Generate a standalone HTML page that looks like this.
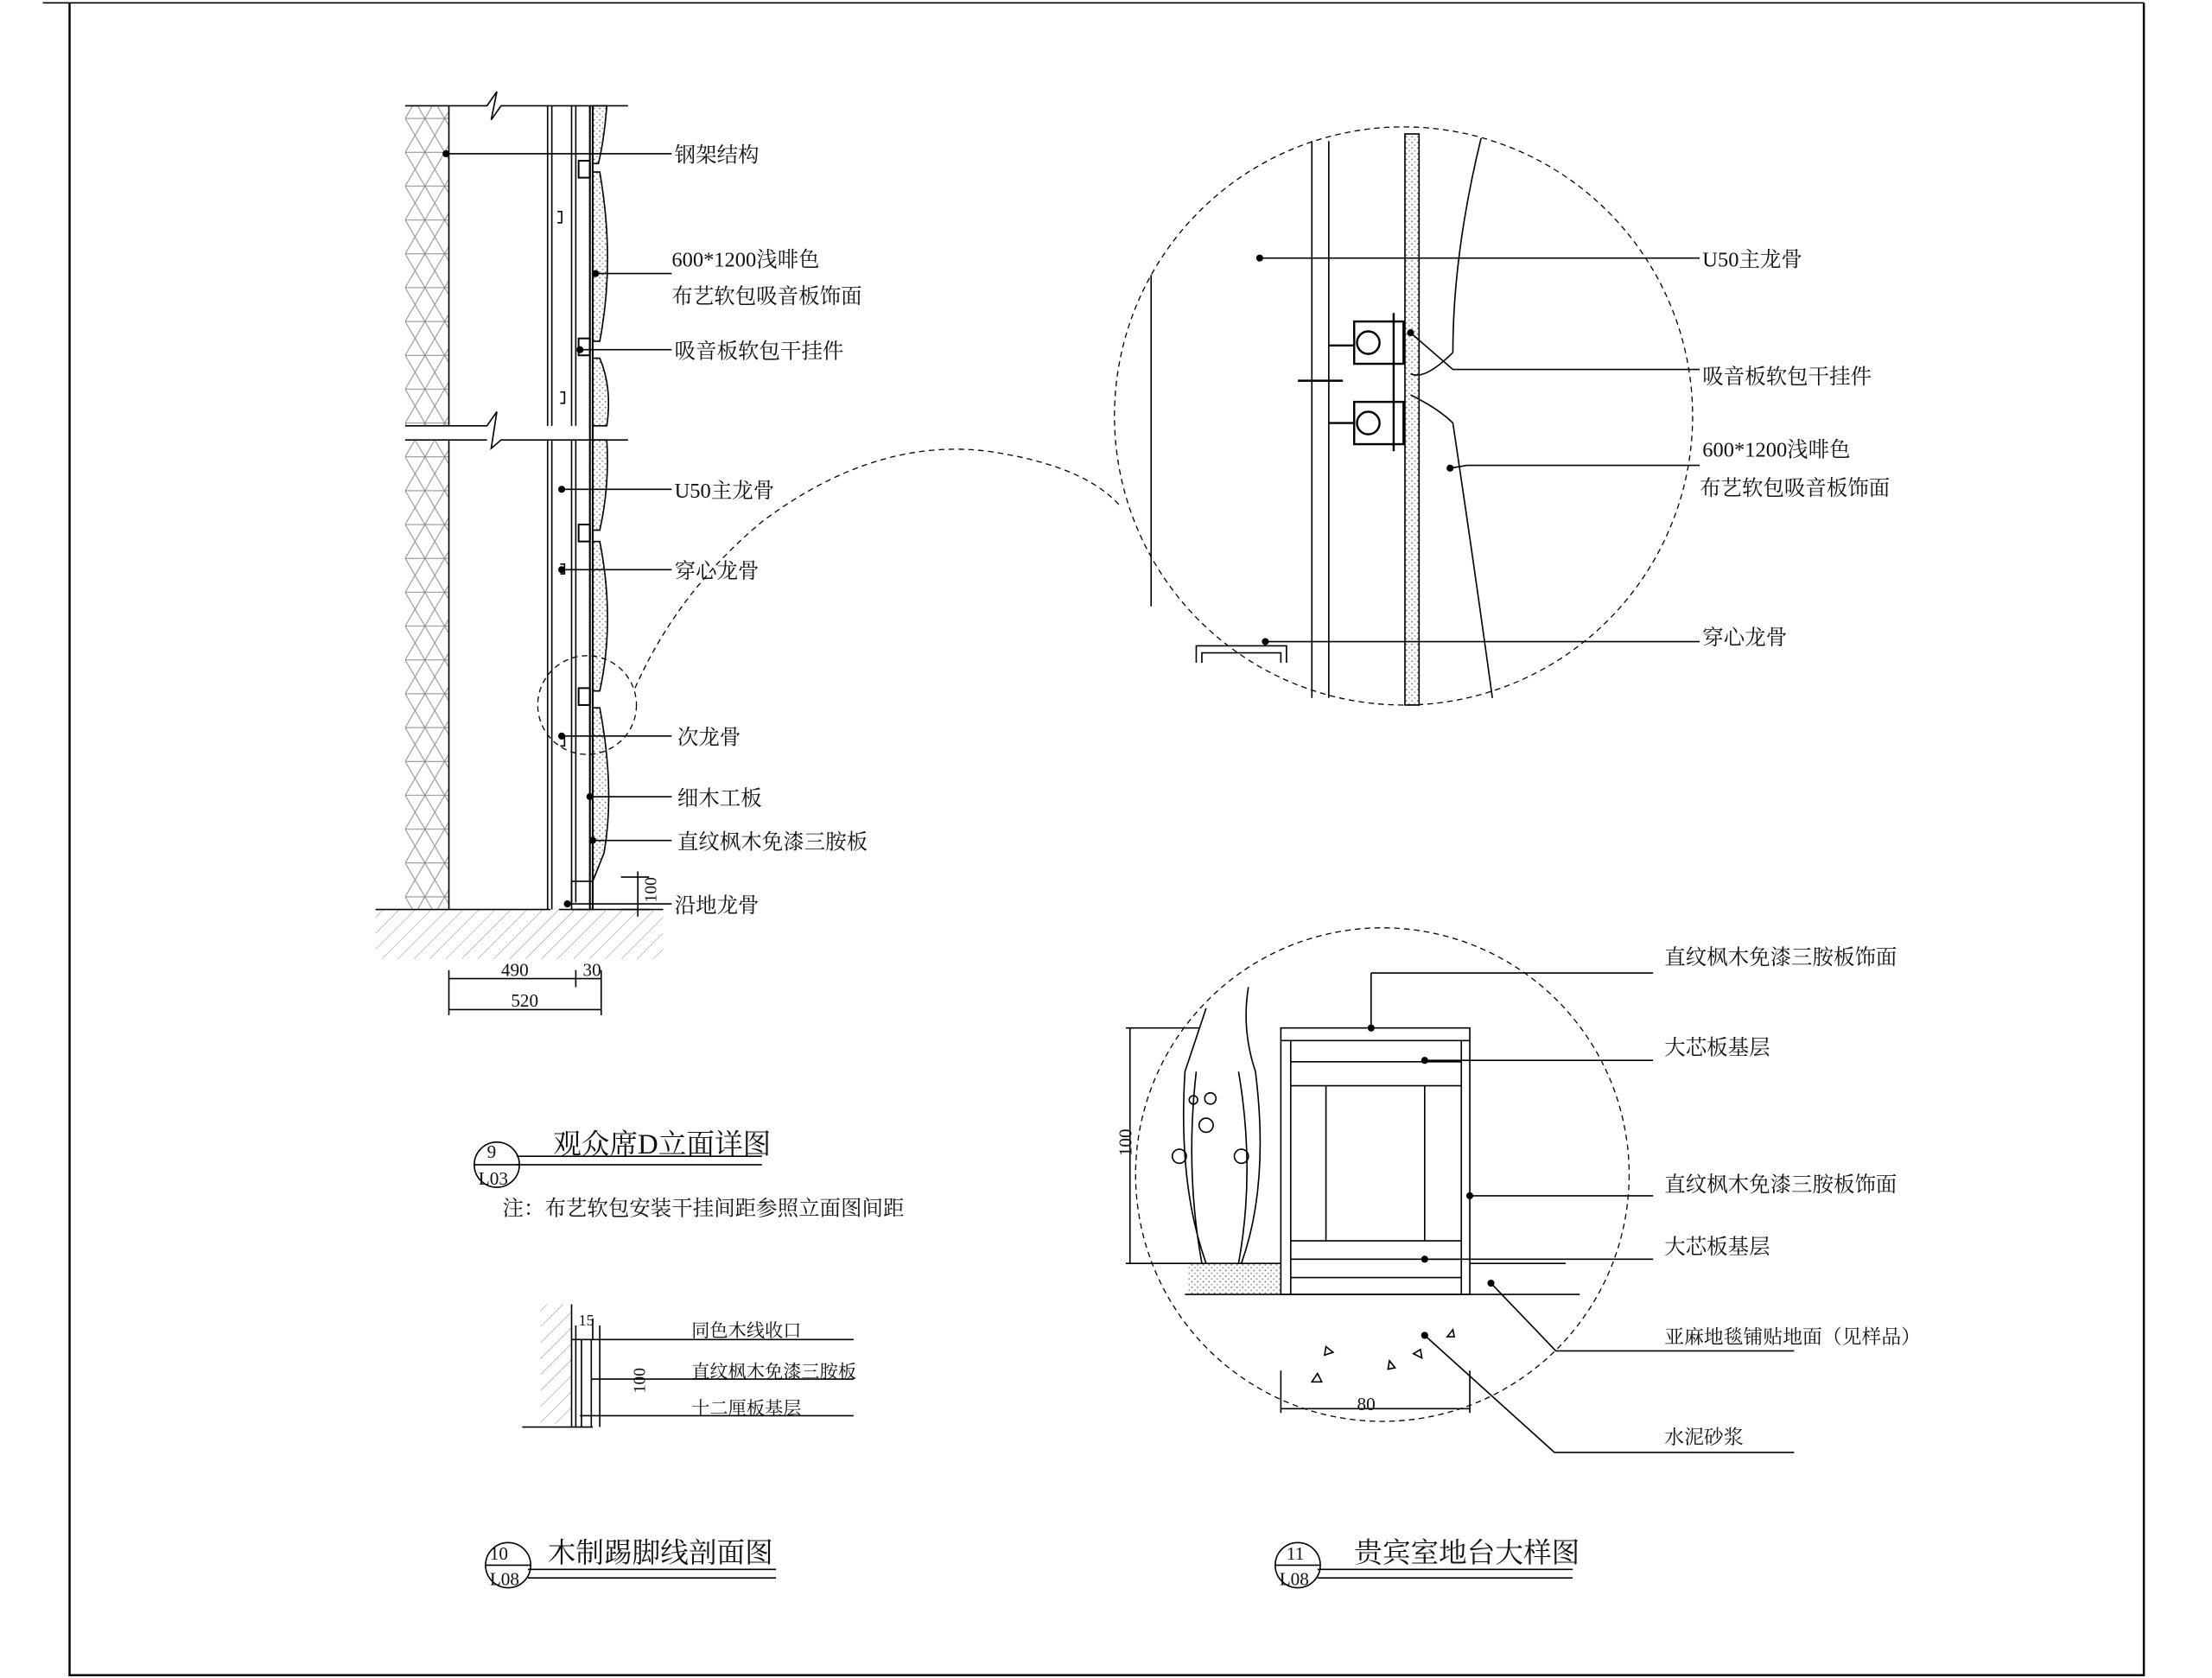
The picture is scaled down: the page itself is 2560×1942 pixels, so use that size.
<!DOCTYPE html>
<html><head><meta charset="utf-8"><style>
html,body{margin:0;padding:0;background:#fff}
svg{display:block}
text{font-family:"Liberation Serif","Noto Serif CJK SC","Noto Sans CJK SC",serif;fill:#111}
</style></head><body>
<svg width="2560" height="1942" viewBox="0 0 1568 1190" xmlns="http://www.w3.org/2000/svg">
<defs>
<pattern id="tri" width="14" height="24" patternUnits="userSpaceOnUse">
<path d="M0 0 L7 12 L0 24 M14 0 L7 12 L14 24 M0 12 H14" stroke="#888" stroke-width="0.6" fill="none"/>
</pattern>
<pattern id="dots" width="4" height="4" patternUnits="userSpaceOnUse">
<circle cx="1" cy="1" r="0.6" fill="#777"/><circle cx="3" cy="3" r="0.6" fill="#999"/>
</pattern>
<pattern id="hatch" width="8" height="8" patternUnits="userSpaceOnUse" patternTransform="rotate(45)">
<line x1="0" y1="0" x2="0" y2="8" stroke="#888" stroke-width="0.6"/>
</pattern>
</defs>
<rect width="1568" height="1190" fill="#fff"/>
<path d="M49 2 V1188 H1520 V2" stroke="#000" stroke-width="1.5" fill="none"/>
<line x1="30" y1="2" x2="1520" y2="2" stroke="#000" stroke-width="1"/>

<g stroke="#000" stroke-width="1" fill="none">
<rect x="287" y="75" width="31" height="227" fill="url(#tri)" stroke="none"/>
<rect x="287" y="312" width="31" height="333" fill="url(#tri)" stroke="none"/>
<line x1="318" y1="75" x2="318" y2="302"/><line x1="318" y1="312" x2="318" y2="645"/>
<path d="M287 75 H345 L352 65 L348 85 L355 75 H445"/>
<path d="M287 302 H345 L352 292 L348 318 L355 312 H445 M287 312 H345"/>
<path d="M388 75 V302 M391 75 V302 M405 75 V302 M408 75 V302 M388 312 V645 M391 312 V645 M405 312 V640 M408 312 V640"/>
<path d="M418 75 V645 M420 75 V645" stroke-width="1.3"/>
<g fill="url(#dots)">
<path d="M420 75 H430 Q428 100 424 116 H420Z"/>
<path d="M420 122 H425 Q436 185 425 242 H420Z"/>
<path d="M420 254 H425 Q434 275 430 302 H420Z"/>
<path d="M420 312 H430 Q432 345 425 376 H420Z"/>
<path d="M420 384 H425 Q436 440 425 490 H420Z"/>
<path d="M420 502 H425 Q436 560 428 605 L420 625Z"/>
</g>
<g stroke-width="1.2">
<rect x="410" y="114" width="8" height="12"/><rect x="410" y="240" width="8" height="12"/>
<rect x="410" y="372" width="8" height="12"/><rect x="410" y="488" width="8" height="12"/>
</g>
<path d="M395 150 h3 v8 h-3 M397 278 h3 v8 h-3 M397 400 h3 v7 h-3 M397 522 h3 v7 h-3"/>
<rect x="405" y="625" width="15" height="20"/>
<line x1="396" y1="645" x2="470" y2="645"/>
<rect x="266" y="645" width="204" height="35" fill="url(#hatch)" stroke="none"/>
<line x1="266" y1="645" x2="390" y2="645"/>
<path d="M440 622 H460 M440 645 H460 M452 618 V650"/>
<path d="M316 109 H476 M422 194 H476 M411 248 H476 M398 347 H476 M398 404 H476 M398 522 H476 M418 565 H476 M420 596 H476 M402 641 H476"/>
<g fill="#000"><circle cx="316" cy="109" r="2"/><circle cx="422" cy="194" r="2"/><circle cx="411" cy="248" r="2"/><circle cx="398" cy="347" r="2"/><circle cx="398" cy="404" r="2"/><circle cx="398" cy="522" r="2"/><circle cx="418" cy="565" r="2"/><circle cx="420" cy="596" r="2"/><circle cx="402" cy="641" r="2"/></g>
<path d="M318 694 H426 M318 688 V720 M408 688 V700 M426 688 V720 M318 716 H426"/>
<g stroke-dasharray="4 3" stroke-width="0.8">
<circle cx="416" cy="500" r="35"/>
<path d="M450 488 Q480 420 540 370 Q620 310 700 320 Q770 330 795 360"/>
<circle cx="995" cy="295" r="205"/>
<circle cx="980" cy="833" r="175"/>
</g>
<path d="M930 100 V495 M942 100 V495 M816 195 V430"/>
<rect x="996" y="95" width="10" height="405" fill="url(#dots)"/>
<path d="M1050 98 Q1030 180 1030 250 Q1010 270 1000 265 M1000 280 Q1020 290 1030 300 Q1045 400 1058 495"/>
<g stroke-width="1.5">
<rect x="960" y="228" width="35" height="30"/><rect x="960" y="285" width="35" height="30"/>
<path d="M942 245 H960 M942 300 H960 M988 222 V320"/>
<circle cx="970" cy="243" r="8"/><circle cx="970" cy="300" r="8"/>
<path d="M920 270 H952"/>
</g>
<path d="M848 470 V458 H912 V470 M852 470 V463 H908 V470"/>
<path d="M893 183 H1205 M1000 236 L1030 262 H1205 M1205 330 H1040 L1028 332 M897 455 H1205"/>
<g fill="#000"><circle cx="893" cy="183" r="2"/><circle cx="1000" cy="236" r="2"/><circle cx="1028" cy="332" r="2"/><circle cx="897" cy="455" r="2"/></g>
<rect x="908" y="729" width="134" height="189"/>
<path d="M908 738 H1042 M915 738 V918 M1036 738 V918 M915 753 H1036 M915 770 H1036 M915 880 H1036 M915 893 H1036 M940 770 V880 M1010 770 V880 M915 906 H1036"/>
<path d="M842 896 H908 M1042 896 H1110 M840 918 H1120"/>
<rect x="842" y="896" width="66" height="22" fill="url(#dots)" stroke="none"/>
<path d="M798 729 H850 M798 896 H845 M801 729 V896"/>
<path d="M855 896 Q835 840 840 760 Q850 730 855 715 M880 896 Q900 840 890 760 Q880 730 885 700 M852 896 Q840 830 848 760 M878 896 Q890 830 878 760"/>
<circle cx="836" cy="820" r="5"/><circle cx="855" cy="798" r="5"/><circle cx="880" cy="820" r="5"/><circle cx="858" cy="779" r="4"/><circle cx="846" cy="780" r="3"/>
<path d="M972 690 V729 M972 690 H1172"/>
<path d="M1010 752 H1172 M1042 848 H1172 M1010 893 H1172 M1057 910 L1103 958 H1272 M1010 947 L1102 1030 H1272"/>
<g fill="#000"><circle cx="972" cy="729" r="2"/><circle cx="1010" cy="752" r="2"/><circle cx="1042" cy="848" r="2"/><circle cx="1010" cy="893" r="2"/><circle cx="1057" cy="910" r="2"/><circle cx="1010" cy="947" r="2"/></g>
<path d="M908 972 V1002 M1042 972 V1002 M908 999 H1042"/>
<path d="M940 955 l5 4 l-6 2z M1002 960 l5 -3 l1 6z M930 980 l4 -6 l3 6z M985 965 l4 5 l-5 1z M1030 943 l-4 5 l5 0z"/>
<rect x="383" y="925" width="22" height="85" fill="url(#hatch)" stroke="none"/>
<path d="M405 925 V1012 M408 940 V1012 M412 950 V1012 M419 950 V1012 M370 1012 H420 M405 950 H605 M419 978 H605 M411 1004 H605 M420 935 V950 M425 940 V1012"/>
<circle cx="352" cy="826" r="16"/><line x1="336" y1="826" x2="368" y2="826"/>
<path d="M366 820 H540 M366 826 H540"/>
<circle cx="360" cy="1110" r="16"/><line x1="344" y1="1110" x2="376" y2="1110"/>
<path d="M374 1113 H550 M374 1119 H550"/>
<circle cx="920" cy="1110" r="16"/><line x1="904" y1="1110" x2="936" y2="1110"/>
<path d="M934 1113 H1115 M934 1119 H1115"/>
</g>

<g font-size="15">
<text x="478" y="115">钢架结构</text>
<text x="476" y="189">600*1200浅啡色</text>
<text x="476" y="215">布艺软包吸音板饰面</text>
<text x="478" y="254">吸音板软包干挂件</text>
<text x="478" y="353">U50主龙骨</text>
<text x="478" y="410">穿心龙骨</text>
<text x="480" y="528">次龙骨</text>
<text x="480" y="571">细木工板</text>
<text x="480" y="602">直纹枫木免漆三胺板</text>
<text x="478" y="647">沿地龙骨</text>
<text x="355" y="692" font-size="13">490</text>
<text x="413" y="692" font-size="13">30</text>
<text x="362" y="714" font-size="13">520</text>
<text x="447" y="642" font-size="12" transform="rotate(-90 455 632)">100</text>
<text x="1207" y="189">U50主龙骨</text>
<text x="1207" y="272">吸音板软包干挂件</text>
<text x="1207" y="324">600*1200浅啡色</text>
<text x="1205" y="351">布艺软包吸音板饰面</text>
<text x="1207" y="457">穿心龙骨</text>
<text x="1180" y="684">直纹枫木免漆三胺板饰面</text>
<text x="1180" y="748">大芯板基层</text>
<text x="1180" y="845">直纹枫木免漆三胺板饰面</text>
<text x="1180" y="889">大芯板基层</text>
<text x="1180" y="953" font-size="14">亚麻地毯铺贴地面（见样品）</text>
<text x="1180" y="1024" font-size="14">水泥砂浆</text>
<text x="962" y="1000" font-size="13">80</text>
<text x="790" y="820" font-size="13" transform="rotate(-90 796 814)">100</text>
<text x="490" y="948" font-size="13">同色木线收口</text>
<text x="490" y="977" font-size="13">直纹枫木免漆三胺板</text>
<text x="490" y="1003" font-size="13">十二厘板基层</text>
<text x="410" y="940" font-size="11">15</text>
<text x="442" y="987" font-size="12" transform="rotate(-90 450 980)">100</text>
<text x="392" y="818" font-size="20">观众席D立面详图</text>
<text x="356" y="862" font-size="15">注：布艺软包安装干挂间距参照立面图间距</text>
<text x="345" y="821" font-size="13">9</text><text x="339" y="840" font-size="13">L03</text>
<text x="388" y="1108" font-size="20">木制踢脚线剖面图</text>
<text x="347" y="1106" font-size="13">10</text><text x="347" y="1124" font-size="13">L08</text>
<text x="960" y="1108" font-size="20">贵宾室地台大样图</text>
<text x="912" y="1106" font-size="13">11</text><text x="907" y="1124" font-size="13">L08</text>
</g>
</svg>
</body></html>
